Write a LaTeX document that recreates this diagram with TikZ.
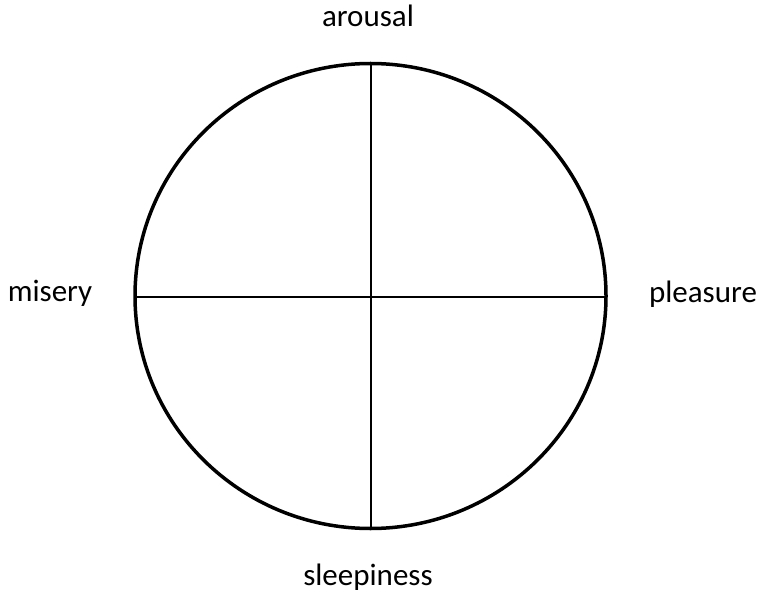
\documentclass[tikz,border=0pt]{standalone}
\usepackage{fontspec}
\setmainfont{Carlito}
\begin{document}
\begin{tikzpicture}[x=1pt,y=-1pt,
  lbl/.style={inner sep=0pt, anchor=base, font=\fontsize{31}{37}\selectfont},
  axis/.style={line width=2pt, black}]
\useasboundingbox (0,0) rectangle (763,596);
\coordinate (c) at (370.5,296);
\draw[line width=3.5pt] (c) ellipse [x radius=235.5, y radius=232.5];
\coordinate (top) at (370.5,63.5);
\coordinate (bot) at (370.5,528.5);
\coordinate (left) at (135,297);
\coordinate (right) at (606,297);
\draw[axis] (top) -- (bot);
\draw[axis] (left) -- (right);
\node[lbl] (arousal) at (368,27) {arousal};
\node[lbl] (sleepiness) at (368,585) {sleepiness};
\node[lbl] (misery) at (50,301) {misery};
\node[lbl] (pleasure) at (703,302) {pleasure};
\end{tikzpicture}
\end{document}
